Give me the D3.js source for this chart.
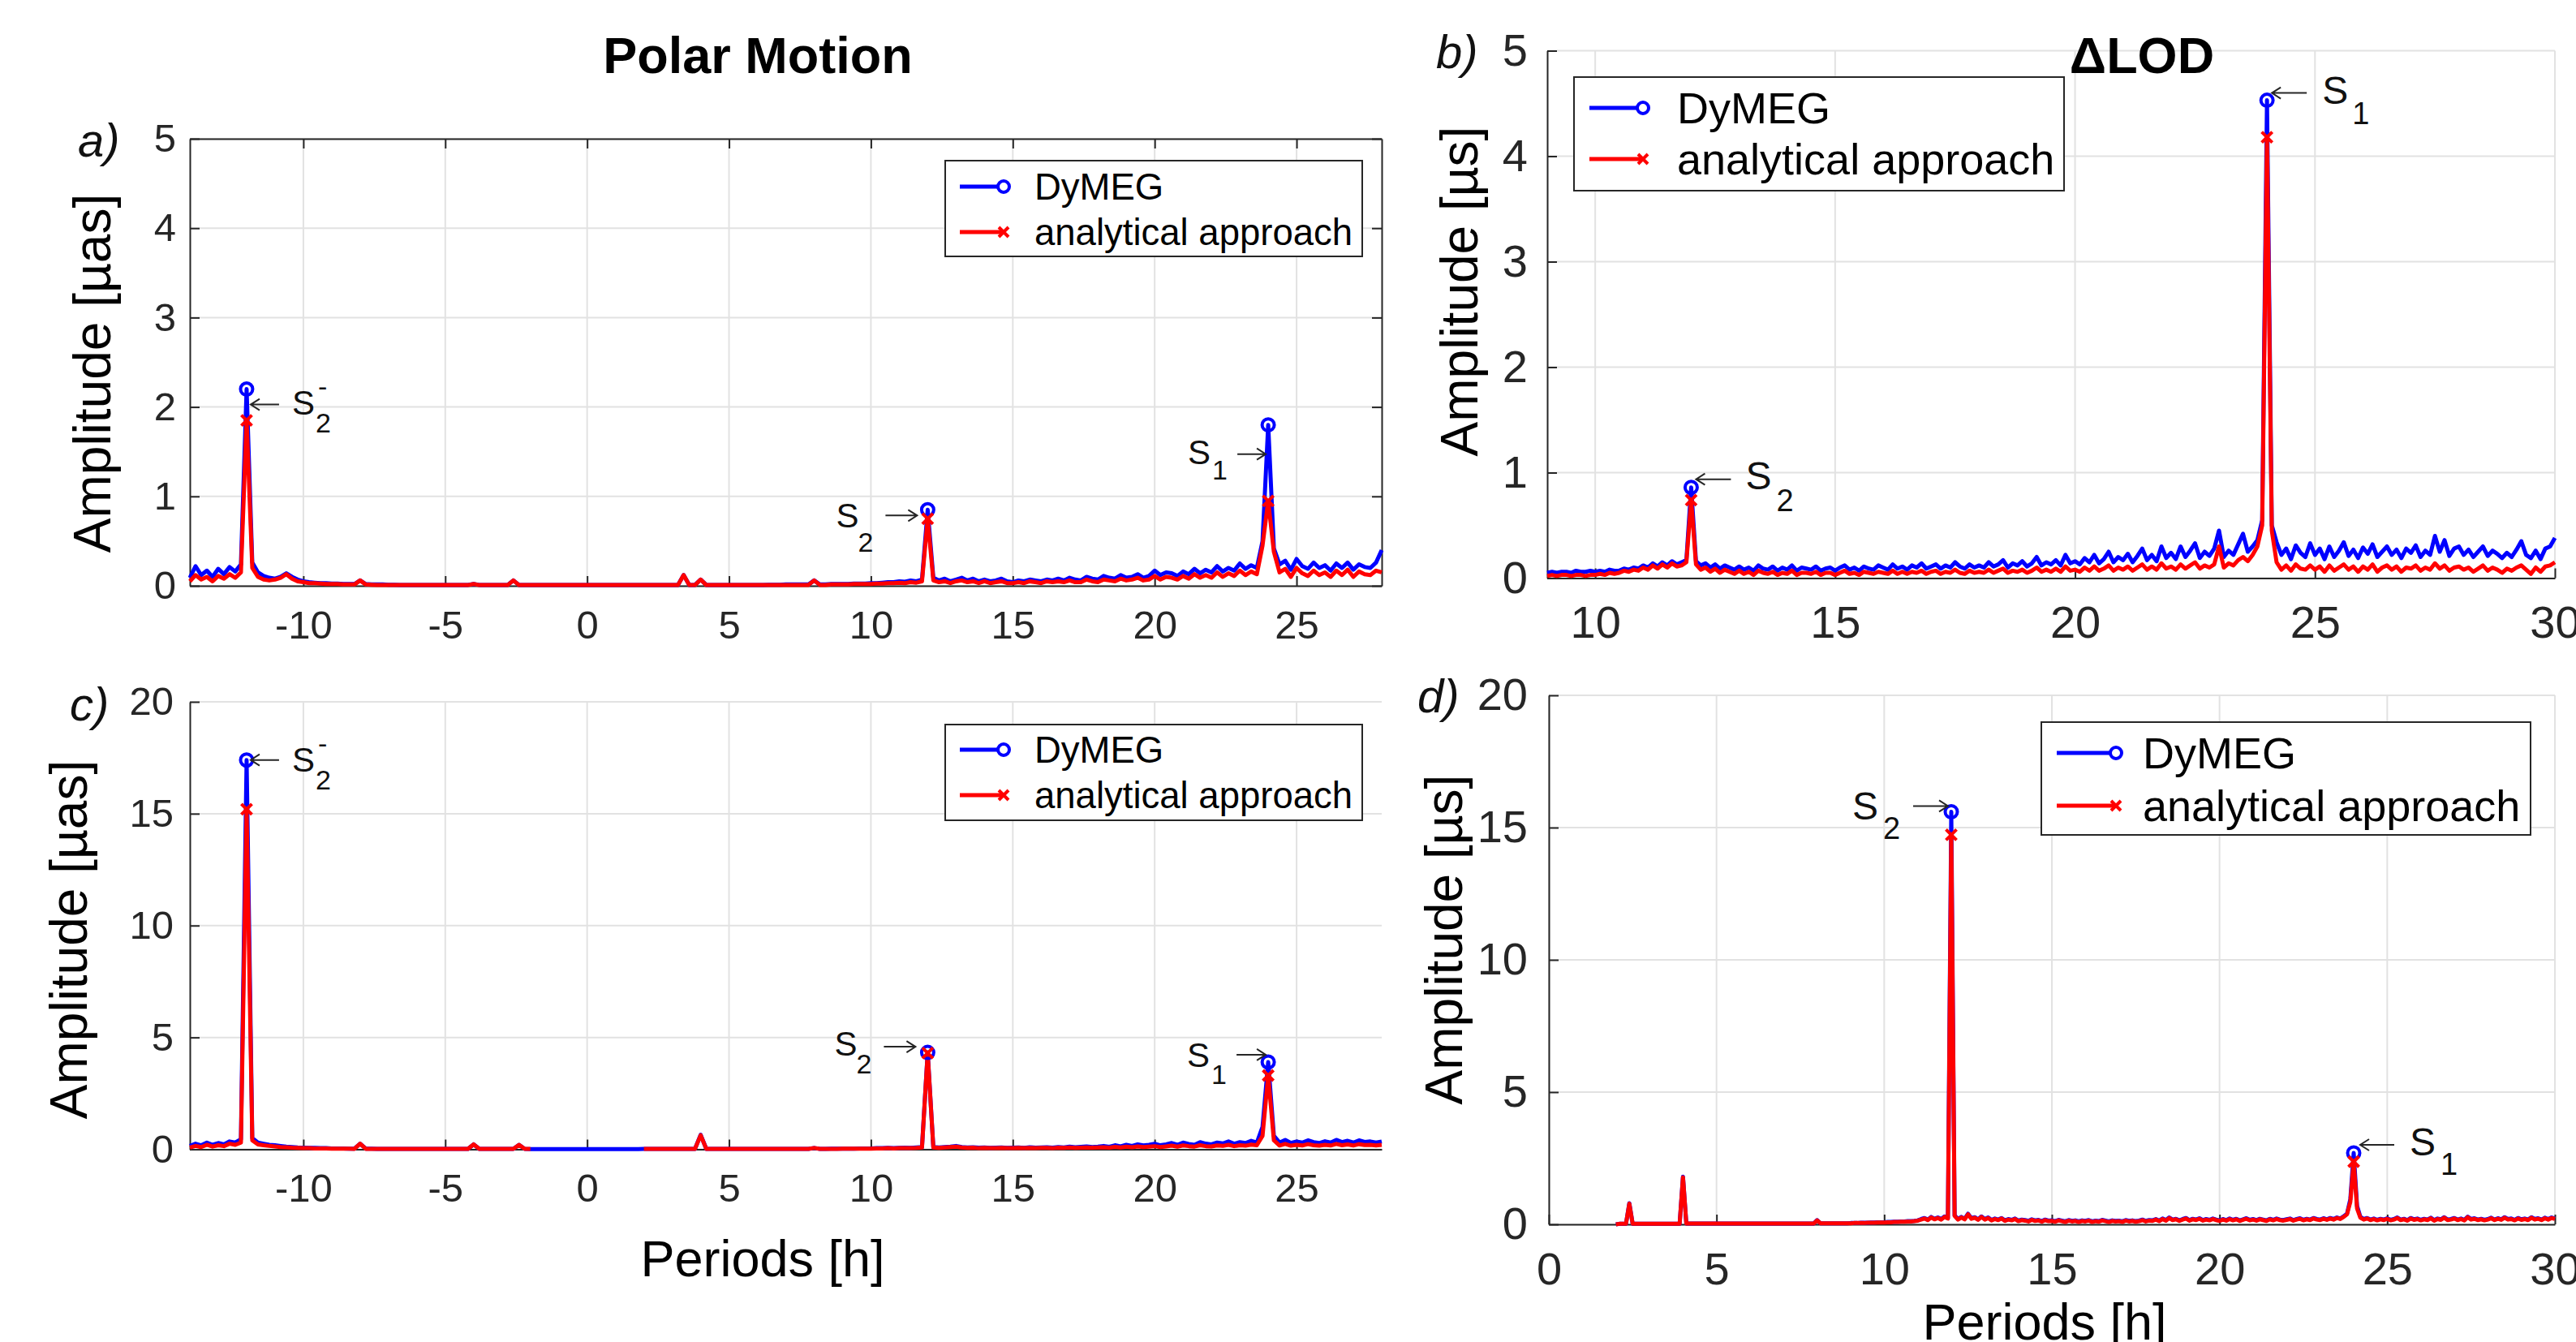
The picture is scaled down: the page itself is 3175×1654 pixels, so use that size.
<!DOCTYPE html>
<html>
<head>
<meta charset="utf-8">
<script src="https://cdn.jsdelivr.net/npm/d3@7"></script>
<style>
  body { margin: 0; background: #fff; }
  svg { display: block; font-family: "Liberation Sans", Arial, sans-serif; }
</style>
</head>
<body>
<div id="graph"></div>
<script>
// spectra, one value per grid step
// a) polar motion, periods -14 .. 28 h, step 0.2
const startA = -14, stepA = 0.2;
const dymegA = [
  0.09, 0.22, 0.12, 0.17, 0.1, 0.19, 0.13, 0.21, 0.16, 0.24,
  2.2, 0.26, 0.15, 0.11, 0.09, 0.08, 0.1, 0.14, 0.1, 0.07,
  0.05, 0.04, 0.035, 0.03, 0.03, 0.025, 0.025, 0.02, 0.02, 0.02,
  0.06, 0.02, 0.015, 0.015, 0.015, 0.012, 0.012, 0.01, 0.01, 0.01,
  0.01, 0.01, 0.01, 0.01, 0.01, 0.01, 0.01, 0.01, 0.01, 0.01,
  0.02, 0.01, 0.01, 0.01, 0.01, 0.01, 0.01, 0.06, 0.01, 0.01,
  0.01, 0.01, 0.01, 0.01, 0.01, 0.01, 0.01, 0.01, 0.01, 0.01,
  0.01, 0.01, 0.01, 0.01, 0.01, 0.01, 0.01, 0.01, 0.01, 0.01,
  0.01, 0.01, 0.01, 0.01, 0.01, 0.01, 0.01, 0.12, 0.01, 0.01,
  0.07, 0.01, 0.01, 0.01, 0.01, 0.01, 0.01, 0.01, 0.01, 0.01,
  0.01, 0.01, 0.012, 0.012, 0.012, 0.015, 0.015, 0.015, 0.015, 0.015,
  0.06, 0.015, 0.015, 0.02, 0.02, 0.02, 0.02, 0.025, 0.025, 0.025,
  0.03, 0.03, 0.035, 0.04, 0.04, 0.05, 0.045, 0.06, 0.05, 0.07,
  0.85, 0.09, 0.06, 0.08, 0.05, 0.07, 0.09, 0.06, 0.08, 0.05,
  0.07, 0.05, 0.06, 0.08, 0.05, 0.04, 0.06, 0.05, 0.07, 0.06,
  0.05, 0.07, 0.06, 0.08, 0.06, 0.09, 0.07, 0.06, 0.1, 0.08,
  0.07, 0.11, 0.09, 0.08, 0.12, 0.09, 0.1, 0.13, 0.09, 0.11,
  0.17, 0.12, 0.15, 0.14, 0.11, 0.16, 0.13, 0.19, 0.14, 0.18,
  0.15, 0.22, 0.16, 0.2, 0.17, 0.25, 0.19, 0.23, 0.2, 0.5,
  1.8, 0.42, 0.24, 0.28, 0.18, 0.3, 0.22, 0.19, 0.26, 0.2,
  0.23, 0.17, 0.25, 0.2, 0.26, 0.18, 0.24, 0.21, 0.2, 0.26,
  0.4
];
const analyticA = [
  0.05, 0.12, 0.07, 0.1, 0.05, 0.11, 0.08, 0.13, 0.09, 0.15,
  1.85, 0.2, 0.1, 0.07, 0.06, 0.07, 0.09, 0.13, 0.08, 0.05,
  0.04, 0.03, 0.03, 0.025, 0.02, 0.02, 0.02, 0.015, 0.015, 0.015,
  0.06, 0.015, 0.012, 0.01, 0.01, 0.01, 0.01, 0.008, 0.008, 0.008,
  0.008, 0.008, 0.008, 0.008, 0.008, 0.008, 0.008, 0.008, 0.008, 0.008,
  0.02, 0.008, 0.008, 0.008, 0.008, 0.008, 0.008, 0.06, 0.008, 0.008,
  0.008, 0.008, 0.008, 0.008, 0.008, 0.008, 0.008, 0.008, 0.008, 0.008,
  0.008, 0.008, 0.008, 0.008, 0.008, 0.008, 0.008, 0.008, 0.008, 0.008,
  0.008, 0.008, 0.008, 0.008, 0.008, 0.008, 0.008, 0.12, 0.008, 0.008,
  0.07, 0.008, 0.008, 0.008, 0.008, 0.008, 0.008, 0.008, 0.008, 0.008,
  0.008, 0.008, 0.01, 0.01, 0.01, 0.01, 0.01, 0.01, 0.01, 0.01,
  0.06, 0.01, 0.01, 0.015, 0.015, 0.015, 0.015, 0.02, 0.02, 0.02,
  0.02, 0.025, 0.025, 0.03, 0.03, 0.035, 0.03, 0.04, 0.035, 0.05,
  0.75, 0.06, 0.04, 0.05, 0.03, 0.05, 0.06, 0.04, 0.05, 0.03,
  0.05, 0.03, 0.04, 0.05, 0.03, 0.03, 0.04, 0.03, 0.05, 0.04,
  0.03, 0.05, 0.04, 0.05, 0.04, 0.06, 0.04, 0.04, 0.07, 0.05,
  0.04, 0.07, 0.06, 0.05, 0.08, 0.06, 0.07, 0.09, 0.06, 0.07,
  0.11, 0.07, 0.1, 0.09, 0.07, 0.11, 0.08, 0.13, 0.09, 0.12,
  0.09, 0.15, 0.1, 0.14, 0.11, 0.17, 0.12, 0.16, 0.13, 0.45,
  0.95, 0.38, 0.15, 0.19, 0.1, 0.2, 0.14, 0.11, 0.17, 0.12,
  0.15, 0.1, 0.17, 0.12, 0.18, 0.1, 0.16, 0.13, 0.12, 0.17,
  0.15
];

// b) dLOD, periods 9 .. 30 h, step 0.1
const startB = 9, stepB = 0.1;
const dymegB = [
  0.05, 0.06, 0.05, 0.06, 0.06, 0.05, 0.07, 0.06, 0.06, 0.07,
  0.06, 0.07, 0.06, 0.08, 0.07, 0.07, 0.09, 0.08, 0.1, 0.09,
  0.12, 0.1, 0.14, 0.11, 0.15, 0.12, 0.16, 0.13, 0.15, 0.17,
  0.86, 0.16, 0.12, 0.14, 0.1, 0.13, 0.09, 0.12, 0.1, 0.08,
  0.11, 0.08, 0.1, 0.07, 0.12, 0.09, 0.08, 0.11, 0.07, 0.1,
  0.08, 0.12, 0.07, 0.1, 0.09, 0.08, 0.11, 0.07, 0.09, 0.1,
  0.07, 0.1, 0.12, 0.08, 0.1, 0.07, 0.11, 0.09, 0.08, 0.12,
  0.1, 0.08, 0.13, 0.09, 0.11, 0.08, 0.12, 0.1, 0.14, 0.09,
  0.11, 0.13, 0.09, 0.12, 0.1, 0.15, 0.11, 0.09, 0.13, 0.1,
  0.12, 0.1, 0.15, 0.11, 0.13, 0.17, 0.1, 0.14, 0.12, 0.16,
  0.11, 0.14, 0.2, 0.12, 0.15, 0.13, 0.17, 0.12, 0.22, 0.14,
  0.16, 0.13, 0.19, 0.15, 0.22, 0.14, 0.18, 0.25, 0.15, 0.2,
  0.17, 0.23, 0.15, 0.21, 0.28, 0.17, 0.22, 0.16, 0.3, 0.19,
  0.24, 0.18, 0.3, 0.2, 0.26, 0.33, 0.19, 0.25, 0.21, 0.28,
  0.45, 0.2, 0.26, 0.22, 0.32, 0.42, 0.25, 0.3, 0.36, 0.55,
  4.53, 0.5, 0.34, 0.22, 0.28, 0.18, 0.31, 0.24, 0.2, 0.33,
  0.22, 0.28, 0.18, 0.3, 0.2, 0.26, 0.34, 0.21, 0.27, 0.19,
  0.29, 0.23, 0.32, 0.2, 0.25, 0.3, 0.22, 0.27, 0.19, 0.28,
  0.24, 0.31, 0.2, 0.26, 0.22, 0.4, 0.25, 0.36, 0.21, 0.28,
  0.3, 0.22, 0.27, 0.2, 0.25, 0.3, 0.21, 0.26, 0.23, 0.19,
  0.24, 0.2, 0.27, 0.35, 0.22, 0.19, 0.26, 0.18, 0.28, 0.3,
  0.38
];
const analyticB = [
  0.02, 0.03, 0.02, 0.03, 0.03, 0.02, 0.03, 0.03, 0.02, 0.03,
  0.03, 0.04, 0.03, 0.05, 0.04, 0.05, 0.07, 0.06, 0.08, 0.07,
  0.1, 0.08, 0.12, 0.09, 0.13, 0.1, 0.14, 0.11, 0.12, 0.15,
  0.74, 0.13, 0.08, 0.1, 0.06, 0.09, 0.05, 0.08, 0.06, 0.04,
  0.07, 0.04, 0.06, 0.03, 0.07, 0.05, 0.04, 0.06, 0.03, 0.05,
  0.04, 0.07, 0.03, 0.05, 0.05, 0.04, 0.06, 0.03, 0.05, 0.05,
  0.03, 0.05, 0.07, 0.04, 0.05, 0.03, 0.06, 0.05, 0.04, 0.06,
  0.05, 0.04, 0.07, 0.04, 0.06, 0.04, 0.06, 0.05, 0.07, 0.04,
  0.06, 0.07, 0.04, 0.06, 0.05, 0.08, 0.05, 0.04, 0.07, 0.05,
  0.06, 0.05, 0.08, 0.05, 0.07, 0.09, 0.05, 0.07, 0.06, 0.08,
  0.05, 0.07, 0.1, 0.06, 0.08, 0.06, 0.09, 0.06, 0.11, 0.07,
  0.08, 0.06, 0.1, 0.07, 0.11, 0.07, 0.09, 0.12, 0.07, 0.1,
  0.08, 0.11, 0.07, 0.1, 0.13, 0.08, 0.11, 0.08, 0.14, 0.09,
  0.11, 0.08, 0.13, 0.09, 0.12, 0.15, 0.09, 0.12, 0.1, 0.13,
  0.3, 0.1, 0.14, 0.12, 0.17, 0.2, 0.16, 0.22, 0.3, 0.5,
  4.18, 0.45, 0.15, 0.08, 0.12, 0.07, 0.13, 0.09, 0.08, 0.12,
  0.08, 0.11, 0.06, 0.12, 0.07, 0.1, 0.13, 0.08, 0.11, 0.06,
  0.11, 0.08, 0.13, 0.06, 0.1, 0.12, 0.08, 0.11, 0.06, 0.1,
  0.09, 0.12, 0.07, 0.1, 0.08, 0.14, 0.09, 0.12, 0.07, 0.1,
  0.11, 0.08, 0.1, 0.06, 0.09, 0.12, 0.07, 0.1, 0.08, 0.05,
  0.09, 0.07, 0.1, 0.12, 0.08, 0.04, 0.1, 0.06, 0.11, 0.12,
  0.15
];

// c) polar motion, periods -14 .. 28 h, step 0.2 (analytical has no values in -2..2)
const startC = -14, stepC = 0.2;
const dymegC = [
  0.15, 0.25, 0.18, 0.3, 0.2, 0.28, 0.22, 0.35, 0.3, 0.45,
  17.4, 0.5, 0.3, 0.25, 0.2, 0.18, 0.15, 0.12, 0.1, 0.08,
  0.07, 0.06, 0.06, 0.05, 0.05, 0.04, 0.04, 0.04, 0.03, 0.03,
  0.25, 0.03, 0.03, 0.02, 0.02, 0.02, 0.02, 0.02, 0.02, 0.02,
  0.02, 0.02, 0.02, 0.02, 0.02, 0.02, 0.02, 0.02, 0.02, 0.02,
  0.22, 0.02, 0.02, 0.02, 0.02, 0.02, 0.02, 0.02, 0.2, 0.02,
  0.01, 0.01, 0.01, 0.01, 0.01, 0.01, 0.01, 0.01, 0.01, 0.01,
  0.01, 0.01, 0.01, 0.01, 0.01, 0.01, 0.01, 0.01, 0.01, 0.01,
  0.02, 0.02, 0.02, 0.02, 0.02, 0.02, 0.02, 0.02, 0.02, 0.02,
  0.65, 0.02, 0.02, 0.02, 0.02, 0.02, 0.02, 0.02, 0.02, 0.02,
  0.02, 0.02, 0.02, 0.02, 0.02, 0.02, 0.02, 0.02, 0.02, 0.02,
  0.06, 0.02, 0.02, 0.03, 0.03, 0.03, 0.03, 0.03, 0.04, 0.04,
  0.04, 0.05, 0.05, 0.06, 0.05, 0.06, 0.07, 0.06, 0.08, 0.1,
  4.33, 0.1, 0.08, 0.1, 0.12, 0.15, 0.1, 0.08, 0.09, 0.07,
  0.08, 0.06, 0.07, 0.08, 0.06, 0.07, 0.08, 0.06, 0.09, 0.07,
  0.08, 0.09, 0.07, 0.1, 0.08, 0.12, 0.09, 0.11, 0.13, 0.1,
  0.12, 0.15, 0.11, 0.18, 0.13, 0.2, 0.15, 0.22, 0.17, 0.2,
  0.25, 0.18, 0.22, 0.28, 0.2, 0.3, 0.24, 0.2, 0.32, 0.25,
  0.22, 0.3, 0.26, 0.35, 0.25, 0.32, 0.28, 0.38, 0.3, 1.0,
  3.9, 0.6, 0.3, 0.42, 0.28, 0.35, 0.3, 0.4, 0.32, 0.28,
  0.36, 0.3, 0.42, 0.32, 0.38, 0.3, 0.4, 0.33, 0.35, 0.3,
  0.35
];
const analyticC = [
  0.08, 0.15, 0.1, 0.2, 0.12, 0.18, 0.14, 0.25, 0.2, 0.3,
  15.2, 0.4, 0.22, 0.18, 0.15, 0.13, 0.1, 0.09, 0.07, 0.06,
  0.05, 0.05, 0.04, 0.04, 0.04, 0.03, 0.03, 0.03, 0.03, 0.02,
  0.25, 0.02, 0.02, 0.02, 0.02, 0.02, 0.02, 0.02, 0.02, 0.02,
  0.02, 0.02, 0.02, 0.02, 0.02, 0.02, 0.02, 0.02, 0.02, 0.02,
  0.22, 0.02, 0.02, 0.02, 0.02, 0.02, 0.02, 0.02, 0.2, 0.02,
  0.02, null, null, null, null, null, null, null, null, null,
  null, null, null, null, null, null, null, null, null, null,
  0.02, 0.02, 0.02, 0.02, 0.02, 0.02, 0.02, 0.02, 0.02, 0.02,
  0.63, 0.02, 0.02, 0.02, 0.02, 0.02, 0.02, 0.02, 0.02, 0.02,
  0.02, 0.02, 0.02, 0.02, 0.02, 0.02, 0.02, 0.02, 0.02, 0.02,
  0.06, 0.02, 0.02, 0.02, 0.02, 0.03, 0.03, 0.03, 0.03, 0.03,
  0.03, 0.04, 0.04, 0.05, 0.04, 0.05, 0.05, 0.05, 0.06, 0.08,
  4.3, 0.08, 0.06, 0.08, 0.1, 0.12, 0.08, 0.06, 0.07, 0.05,
  0.06, 0.05, 0.05, 0.06, 0.05, 0.05, 0.06, 0.05, 0.06, 0.05,
  0.06, 0.06, 0.05, 0.07, 0.06, 0.08, 0.06, 0.07, 0.08, 0.07,
  0.08, 0.09, 0.07, 0.11, 0.08, 0.12, 0.09, 0.13, 0.1, 0.12,
  0.14, 0.1, 0.13, 0.16, 0.12, 0.17, 0.14, 0.12, 0.18, 0.14,
  0.13, 0.17, 0.15, 0.2, 0.14, 0.18, 0.16, 0.21, 0.18, 0.6,
  3.3, 0.4, 0.17, 0.24, 0.16, 0.2, 0.17, 0.23, 0.18, 0.16,
  0.2, 0.17, 0.24, 0.18, 0.22, 0.17, 0.23, 0.19, 0.2, 0.17,
  0.2
];

// d) dLOD, periods 2 .. 30 h, step 0.1
const startD = 2, stepD = 0.1;
const dymegD = [
  0, 0.02, 0.02, 0.02, 0.8, 0.02, 0.02, 0.02, 0.02, 0.02,
  0.02, 0.02, 0.02, 0.02, 0.02, 0.02, 0.02, 0.02, 0.02, 0.02,
  1.8, 0.03, 0.03, 0.03, 0.03, 0.03, 0.03, 0.03, 0.03, 0.03,
  0.03, 0.03, 0.03, 0.03, 0.03, 0.03, 0.03, 0.03, 0.03, 0.03,
  0.03, 0.03, 0.03, 0.03, 0.03, 0.03, 0.03, 0.03, 0.03, 0.03,
  0.03, 0.03, 0.03, 0.03, 0.03, 0.03, 0.03, 0.03, 0.03, 0.03,
  0.16, 0.04, 0.04, 0.04, 0.04, 0.04, 0.04, 0.04, 0.04, 0.04,
  0.05, 0.05, 0.05, 0.06, 0.06, 0.06, 0.07, 0.07, 0.08, 0.08,
  0.08, 0.09, 0.09, 0.1, 0.1, 0.11, 0.11, 0.12, 0.12, 0.13,
  0.15, 0.2, 0.24, 0.18, 0.28, 0.21, 0.26, 0.2, 0.3, 0.24,
  15.6, 0.34, 0.2, 0.28, 0.21, 0.4, 0.23, 0.27, 0.19, 0.3,
  0.2, 0.26, 0.17, 0.22, 0.18, 0.24, 0.15, 0.2, 0.17, 0.22,
  0.14, 0.18, 0.16, 0.13, 0.19, 0.15, 0.17, 0.12, 0.18, 0.14,
  0.15, 0.12, 0.17, 0.14, 0.11, 0.16, 0.13, 0.15, 0.11, 0.15,
  0.13, 0.16, 0.11, 0.14, 0.12, 0.17, 0.14, 0.11, 0.15, 0.13,
  0.14, 0.11, 0.16, 0.13, 0.15, 0.12, 0.14, 0.18, 0.13, 0.16,
  0.15, 0.2, 0.14, 0.22, 0.16, 0.26, 0.18, 0.21, 0.15, 0.2,
  0.24, 0.16, 0.21, 0.18, 0.23, 0.16, 0.2, 0.17, 0.22, 0.18,
  0.15, 0.2, 0.16, 0.22, 0.17, 0.21, 0.15, 0.19, 0.23, 0.17,
  0.2, 0.16, 0.21, 0.18, 0.15, 0.21, 0.17, 0.22, 0.18, 0.16,
  0.19, 0.22, 0.16, 0.2, 0.23, 0.17, 0.21, 0.18, 0.24, 0.2,
  0.18, 0.23, 0.19, 0.24, 0.2, 0.26, 0.22, 0.3, 0.4, 0.95,
  2.7, 0.7, 0.28, 0.2, 0.24, 0.18, 0.22, 0.17, 0.21, 0.18,
  0.23, 0.17, 0.2, 0.26, 0.18, 0.21, 0.16, 0.24, 0.19, 0.22,
  0.17, 0.21, 0.18, 0.25, 0.16, 0.22, 0.19, 0.27, 0.18, 0.2,
  0.24, 0.18, 0.22, 0.17, 0.29, 0.2, 0.23, 0.18, 0.21, 0.17,
  0.2, 0.25, 0.18, 0.23, 0.19, 0.27, 0.2, 0.22, 0.17, 0.24,
  0.19, 0.22, 0.18, 0.27, 0.2, 0.23, 0.18, 0.25, 0.2, 0.26,
  0.22
];
const analyticD = [
  0, 0.02, 0.02, 0.02, 0.78, 0.02, 0.02, 0.02, 0.02, 0.02,
  0.02, 0.02, 0.02, 0.02, 0.02, 0.02, 0.02, 0.02, 0.02, 0.02,
  1.78, 0.03, 0.03, 0.03, 0.03, 0.03, 0.03, 0.03, 0.03, 0.03,
  0.03, 0.03, 0.03, 0.03, 0.03, 0.03, 0.03, 0.03, 0.03, 0.03,
  0.03, 0.03, 0.03, 0.03, 0.03, 0.03, 0.03, 0.03, 0.03, 0.03,
  0.03, 0.03, 0.03, 0.03, 0.03, 0.03, 0.03, 0.03, 0.03, 0.03,
  0.15, 0.04, 0.04, 0.04, 0.04, 0.04, 0.04, 0.04, 0.04, 0.04,
  0.04, 0.05, 0.05, 0.05, 0.05, 0.06, 0.06, 0.06, 0.07, 0.07,
  0.07, 0.08, 0.08, 0.09, 0.09, 0.1, 0.1, 0.11, 0.11, 0.12,
  0.14, 0.18, 0.22, 0.16, 0.26, 0.19, 0.24, 0.18, 0.28, 0.22,
  14.73, 0.32, 0.18, 0.26, 0.19, 0.38, 0.21, 0.25, 0.17, 0.28,
  0.18, 0.24, 0.15, 0.2, 0.16, 0.22, 0.13, 0.18, 0.15, 0.2,
  0.12, 0.16, 0.14, 0.11, 0.17, 0.13, 0.15, 0.1, 0.16, 0.12,
  0.13, 0.1, 0.15, 0.12, 0.09, 0.14, 0.11, 0.13, 0.09, 0.13,
  0.11, 0.14, 0.09, 0.12, 0.1, 0.15, 0.12, 0.09, 0.13, 0.11,
  0.12, 0.09, 0.14, 0.11, 0.13, 0.1, 0.12, 0.16, 0.11, 0.14,
  0.13, 0.18, 0.12, 0.2, 0.14, 0.24, 0.16, 0.19, 0.13, 0.18,
  0.22, 0.14, 0.19, 0.16, 0.21, 0.14, 0.18, 0.15, 0.2, 0.16,
  0.13, 0.18, 0.14, 0.2, 0.15, 0.19, 0.13, 0.17, 0.21, 0.15,
  0.18, 0.14, 0.19, 0.16, 0.13, 0.19, 0.15, 0.2, 0.16, 0.14,
  0.17, 0.2, 0.14, 0.18, 0.21, 0.15, 0.19, 0.16, 0.22, 0.18,
  0.16, 0.21, 0.17, 0.22, 0.18, 0.24, 0.2, 0.28, 0.38, 0.85,
  2.37, 0.6, 0.25, 0.18, 0.22, 0.16, 0.2, 0.15, 0.19, 0.16,
  0.21, 0.15, 0.18, 0.24, 0.16, 0.19, 0.14, 0.22, 0.17, 0.2,
  0.15, 0.19, 0.16, 0.23, 0.14, 0.2, 0.17, 0.25, 0.16, 0.18,
  0.22, 0.16, 0.2, 0.15, 0.27, 0.18, 0.21, 0.16, 0.19, 0.15,
  0.18, 0.23, 0.16, 0.21, 0.17, 0.25, 0.18, 0.2, 0.15, 0.22,
  0.17, 0.2, 0.16, 0.25, 0.18, 0.21, 0.16, 0.23, 0.18, 0.24,
  0.2
];

// tidal peaks that get markers and labels
const peaksPM = [-12, 12, 24];
const peaksLOD = [12, 24];
const ticksPMx = [-10, -5, 0, 5, 10, 15, 20, 25];
const ticksLODbx = [10, 15, 20, 25, 30];
const ticksLODdx = [0, 5, 10, 15, 20, 25, 30];
const seriesNames = ["DyMEG", "analytical approach"];

const W = 3175, H = 1654;
const BLUE = "#0000ff", RED = "#ff0000", AX = "#262626", GRID = "#e2e2e2";

let svg = d3.select("#graph").append("svg")
  .attr("width", W).attr("height", H);

function grid(start, step, vals) {
  return vals.map((v, i) => [+(start + i * step).toFixed(2), v]);
}

// label positions: offsets (px) from the DyMEG marker
const panels = [
  { name: "a)", lx: 96, ly: 193, left: 234, right: 1703, top: 171, bottom: 722,
    xd: [-14, 28], yd: [0, 5], xt: ticksPMx, yt: [0, 1, 2, 3, 4, 5],
    blue: grid(startA, stepA, dymegA), red: grid(startA, stepA, analyticA), peaks: peaksPM,
    box: true, tf: 49, xpad: 30, ypad: 17, lf: 45.5, af: 42, sf: 34,
    ylab: "Amplitude [\u00b5as]", ylx: 136, yly: 460,
    leg: { x: 1165, y: 198, w: 514, h: 118, l1: 1183, l2: 1237, tx: 1275, r1: 230, r2: 286 },
    notes: [
      { p: -12, arrow: [40, 19, 5, 19], s: [56, 31], sub: "2", subp: [85, 53], sup: "-", supp: [88, 8] },
      { p: 12, arrow: [-52, 7, -13, 7], s: [-113, 22], sub: "2", subp: [-86, 52] },
      { p: 24, arrow: [-38, 36, -3, 36], s: [-99, 48], sub: "1", subp: [-69, 67] }
    ] },
  { name: "b)", lx: 1770, ly: 84, left: 1907, right: 3149, top: 62.5, bottom: 712.5,
    xd: [9, 30], yd: [0, 5], xt: ticksLODbx, yt: [0, 1, 2, 3, 4, 5],
    blue: grid(startB, stepB, dymegB), red: grid(startB, stepB, analyticB), peaks: peaksLOD,
    box: false, tf: 56, xpad: 34, ypad: 24, lf: 54, af: 48, sf: 38,
    ylab: "Amplitude [\u00b5s]", ylx: 1821, yly: 359,
    leg: { x: 1940, y: 95, w: 604, h: 140, l1: 1959, l2: 2025, tx: 2067, r1: 133, r2: 196 },
    notes: [
      { p: 12, arrow: [49, -10, 6, -10], s: [67, 2], sub: "2", subp: [105, 29] },
      { p: 24, arrow: [49, -9, 6, -9], s: [68, 4], sub: "1", subp: [105, 29] }
    ] },
  { name: "c)", lx: 86, ly: 888, left: 234, right: 1703, top: 865, bottom: 1416.5,
    xd: [-14, 28], yd: [0, 20], xt: ticksPMx, yt: [0, 5, 10, 15, 20],
    blue: grid(startC, stepC, dymegC), red: grid(startC, stepC, analyticC), peaks: peaksPM,
    box: false, tf: 49, xpad: 30, ypad: 20, lf: 45.5, af: 42, sf: 34,
    ylab: "Amplitude [\u00b5as]", ylx: 107, yly: 1158,
    xlab: "Periods [h]", xlx: 940, xly: 1573,
    leg: { x: 1165, y: 893, w: 514, h: 118, l1: 1183, l2: 1237, tx: 1275, r1: 924, r2: 980 },
    notes: [
      { p: -12, arrow: [40, 0, 5, 0], s: [56, 14], sub: "2", subp: [85, 36], sup: "-", supp: [88, -9] },
      { p: 12, arrow: [-54, -7, -15, -7], s: [-115, 4], sub: "2", subp: [-88, 26] },
      { p: 24, arrow: [-39, -9, -3, -9], s: [-100, 6], sub: "1", subp: [-70, 27] }
    ] },
  { name: "d)", lx: 1747, ly: 878, left: 1909, right: 3149, top: 857, bottom: 1509,
    xd: [0, 30], yd: [0, 20], xt: ticksLODdx, yt: [0, 5, 10, 15, 20],
    blue: grid(startD, stepD, dymegD), red: grid(startD, stepD, analyticD), peaks: peaksLOD,
    box: false, tf: 56, xpad: 34, ypad: 26, lf: 54, af: 48, sf: 38,
    ylab: "Amplitude [\u00b5s]", ylx: 1802, yly: 1158,
    xlab: "Periods [h]", xlx: 2520, xly: 1651,
    leg: { x: 2516, y: 890, w: 603, h: 139, l1: 2535, l2: 2608, tx: 2641, r1: 928, r2: 993 },
    notes: [
      { p: 12, arrow: [-47, -7, -4, -7], s: [-122, 10], sub: "2", subp: [-84, 34] },
      { p: 24, arrow: [50, -10, 8, -10], s: [69, 3], sub: "1", subp: [107, 27] }
    ] }
];

function xMark(g, cx, cy, r, color, w) {
  g.append("path")
    .attr("d", `M${cx - r},${cy - r}L${cx + r},${cy + r}M${cx - r},${cy + r}L${cx + r},${cy - r}`)
    .attr("stroke", color).attr("stroke-width", w).attr("fill", "none");
}

function drawPanel(p) {
  let x = d3.scaleLinear().domain(p.xd).range([p.left, p.right]);
  let y = d3.scaleLinear().domain(p.yd).range([p.bottom, p.top]);
  let g = svg.append("g");

  // grid
  g.append("g").selectAll("line").data(p.xt).join("line")
    .attr("x1", d => x(d)).attr("x2", d => x(d))
    .attr("y1", p.top).attr("y2", p.bottom)
    .attr("stroke", GRID).attr("stroke-width", 2);
  g.append("g").selectAll("line").data(p.yt).join("line")
    .attr("x1", p.left).attr("x2", p.right)
    .attr("y1", d => y(d)).attr("y2", d => y(d))
    .attr("stroke", GRID).attr("stroke-width", 2);

  // axes with inward ticks
  let xa = g.append("g").attr("transform", `translate(0,${p.bottom})`)
    .call(d3.axisBottom(x).tickValues(p.xt).tickSizeInner(-12).tickSizeOuter(0)
      .tickPadding(p.xpad).tickFormat(d => String(d)));
  let ya = g.append("g").attr("transform", `translate(${p.left},0)`)
    .call(d3.axisLeft(y).tickValues(p.yt).tickSizeInner(-12).tickSizeOuter(0)
      .tickPadding(p.ypad).tickFormat(d => String(d)));
  let axes = [xa, ya];
  if (p.box) {
    axes.push(g.append("g").attr("transform", `translate(0,${p.top})`)
      .call(d3.axisTop(x).tickValues(p.xt).tickSizeInner(-12).tickSizeOuter(0).tickFormat("")));
    axes.push(g.append("g").attr("transform", `translate(${p.right},0)`)
      .call(d3.axisRight(y).tickValues(p.yt).tickSizeInner(-12).tickSizeOuter(0).tickFormat("")));
  }
  axes.forEach(a => {
    a.attr("font-family", null).attr("font-size", p.tf);
    a.select(".domain").attr("stroke", AX).attr("stroke-width", 2);
    a.selectAll(".tick line").attr("stroke", AX).attr("stroke-width", 2);
    a.selectAll(".tick text").attr("fill", AX);
  });

  // spectra: DyMEG below, analytical on top
  let line = d3.line().defined(d => d[1] != null).x(d => x(d[0])).y(d => y(d[1]));
  g.append("path").datum(p.blue).attr("d", line)
    .attr("fill", "none").attr("stroke", BLUE).attr("stroke-width", 5).attr("stroke-linejoin", "round");
  g.append("path").datum(p.red).attr("d", line)
    .attr("fill", "none").attr("stroke", RED).attr("stroke-width", 5).attr("stroke-linejoin", "round");

  // peak markers
  p.peaks.forEach(pk => {
    let b = p.blue.find(d => Math.abs(d[0] - pk) < 1e-6);
    let r = p.red.find(d => Math.abs(d[0] - pk) < 1e-6);
    g.append("circle").attr("cx", x(b[0])).attr("cy", y(b[1])).attr("r", 7.5)
      .attr("fill", "none").attr("stroke", BLUE).attr("stroke-width", 4);
    xMark(g, x(r[0]), y(r[1]), 6.5, RED, 4);
  });

  // annotations
  p.notes.forEach(n => {
    let b = p.blue.find(d => Math.abs(d[0] - n.p) < 1e-6);
    let cx = x(b[0]), cy = y(b[1]);
    let [tx, ty, hx, hy] = n.arrow;
    let dir = hx < tx ? 1 : -1;
    g.append("path")
      .attr("d", `M${cx + tx},${cy + ty}L${cx + hx},${cy + hy}` +
        `M${cx + hx + dir * 11},${cy + hy - 7}L${cx + hx},${cy + hy}L${cx + hx + dir * 11},${cy + hy + 7}`)
      .attr("fill", "none").attr("stroke", AX).attr("stroke-width", 2);
    g.append("text").attr("x", cx + n.s[0]).attr("y", cy + n.s[1])
      .attr("font-size", p.af).attr("fill", "#111").text("S");
    g.append("text").attr("x", cx + n.subp[0]).attr("y", cy + n.subp[1])
      .attr("font-size", p.sf).attr("fill", "#111").text(n.sub);
    if (n.sup) {
      g.append("text").attr("x", cx + n.supp[0]).attr("y", cy + n.supp[1])
        .attr("font-size", p.sf).attr("fill", "#111").text(n.sup);
    }
  });

  // legend
  let L = p.leg;
  let lg = g.append("g");
  lg.append("rect").attr("x", L.x).attr("y", L.y).attr("width", L.w).attr("height", L.h)
    .attr("fill", "#fff").attr("stroke", AX).attr("stroke-width", 2);
  [[BLUE, L.r1], [RED, L.r2]].forEach(([c, ry], i) => {
    lg.append("line").attr("x1", L.l1).attr("x2", L.l2).attr("y1", ry).attr("y2", ry)
      .attr("stroke", c).attr("stroke-width", 5);
    if (i == 0) {
      lg.append("circle").attr("cx", L.l2).attr("cy", ry).attr("r", 7)
        .attr("fill", "#fff").attr("stroke", c).attr("stroke-width", 4);
    } else {
      xMark(lg, L.l2, ry, 6, c, 4);
    }
    lg.append("text").attr("x", L.tx).attr("y", ry).attr("dy", "0.35em")
      .attr("font-size", p.lf).attr("fill", "#000").text(seriesNames[i]);
  });

  // axis labels and panel letter
  g.append("text").attr("transform", `translate(${p.ylx},${p.yly}) rotate(-90)`)
    .attr("text-anchor", "middle").attr("font-size", 64).attr("fill", "#000").text(p.ylab);
  if (p.xlab) {
    g.append("text").attr("x", p.xlx).attr("y", p.xly).attr("text-anchor", "middle")
      .attr("font-size", 63).attr("fill", "#000").text(p.xlab);
  }
  g.append("text").attr("x", p.lx).attr("y", p.ly).attr("font-style", "italic")
    .attr("font-size", 58).attr("fill", "#111").text(p.name);
}

panels.forEach(drawPanel);

svg.append("text").attr("x", 934).attr("y", 90).attr("text-anchor", "middle")
  .attr("font-weight", "bold").attr("font-size", 63).text("Polar Motion");
svg.append("text").attr("x", 2640).attr("y", 90).attr("text-anchor", "middle")
  .attr("font-weight", "bold").attr("font-size", 63).text("\u0394LOD");
</script>
</body>
</html>
